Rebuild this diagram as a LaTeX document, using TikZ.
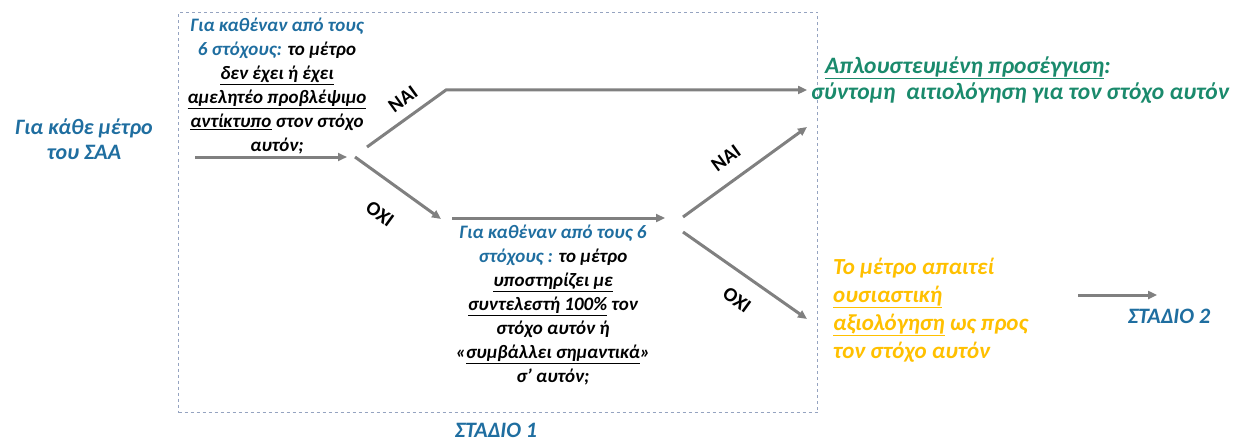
\documentclass[tikz,border=0pt]{standalone}
\usepackage{fontspec}
\setmainfont{Carlito}
\usetikzlibrary{arrows.meta}
\definecolor{sblue}{HTML}{1F6EA0}
\definecolor{sgreen}{HTML}{1A8A6C}
\definecolor{sorange}{HTML}{FFC000}
\definecolor{sgray}{HTML}{808080}
\definecolor{sdash}{HTML}{95A3C0}
\begin{document}
\begin{tikzpicture}[x=1pt,y=-1pt,
  conn/.style={draw=sgray,line width=3pt,-{Triangle[length=9pt,width=8pt]}},
  txt/.style={font=\fontsize{19}{24}\selectfont\bfseries\itshape,align=center,inner sep=0pt},
  yn/.style={font=\fontsize{20}{22}\selectfont\bfseries,inner sep=0pt},
  stage/.style={font=\fontsize{22}{24}\selectfont\bfseries\itshape,text=sblue,inner sep=0pt}]
\useasboundingbox (0,0) rectangle (1244,441);
\node[draw=sdash,dashed,line width=1pt,minimum width=639pt,minimum height=400pt,anchor=north west,inner sep=0pt] (frame) at (178,12) {};
\node[font=\fontsize{22}{25}\selectfont\bfseries\itshape,text=sblue,align=center,inner sep=0pt] (start) at (84,139) {Για κάθε μέτρο\\του ΣΑΑ};
\node[txt] (q1) at (277,86) {\textcolor{sblue}{Για καθέναν από τους}\\\textcolor{sblue}{6 στόχους:} το μέτρο\\\underline{δεν έχει ή έχει}\\\underline{αμελητέο προβλέψιμο}\\\underline{αντίκτυπο} στον στόχο\\αυτόν;};
\node[txt] (q2) at (553,305) {\textcolor{sblue}{Για καθέναν από τους 6}\\\textcolor{sblue}{στόχους :} το μέτρο\\\underline{υποστηρίζει με}\\\underline{συντελεστή 100\%} τον\\στόχο αυτόν ή\\«\underline{συμβάλλει σημαντικά}»\\σ' αυτόν;};
\node[font=\fontsize{23.5}{26}\selectfont\bfseries\itshape,text=sgreen,align=left,anchor=west,inner sep=0pt] (simp) at (811,80) {\hspace*{14pt}\underline{Απλουστευμένη προσέγγιση}:\\σύντομη\ \ αιτιολόγηση για τον στόχο αυτόν};
\node[font=\fontsize{23}{28}\selectfont\bfseries\itshape,text=sorange,align=left,anchor=west,inner sep=0pt] (full) at (833,310) {Το μέτρο απαιτεί\\\underline{ουσιαστική}\\\underline{αξιολόγηση} ως προς\\τον στόχο αυτόν};
\node[stage] (s2) at (1169,316) {ΣΤΑΔΙΟ 2};
\node[stage] (s1) at (496,430) {ΣΤΑΔΙΟ 1};
% connectors
\coordinate (a0) at (195,157); \coordinate (a1) at (347,157);
\draw[conn] (a0) -- (a1);
\coordinate (n0) at (367,147); \coordinate (n1) at (446,90); \coordinate (n2) at (807,90);
\draw[conn] (n0) -- (n1) -- (n2);
\coordinate (o0) at (355,157); \coordinate (o1) at (441,219);
\draw[conn] (o0) -- (o1);
\coordinate (b0) at (452,218); \coordinate (b1) at (665,218);
\draw[conn] (b0) -- (b1);
\coordinate (m0) at (683,217); \coordinate (m1) at (807,127);
\draw[conn] (m0) -- (m1);
\coordinate (p0) at (683,232); \coordinate (p1) at (807,319);
\draw[conn] (p0) -- (p1);
\coordinate (s0) at (1078,295); \coordinate (s3) at (1157,295);
\draw[conn] (s0) -- (s3);
\node[yn,rotate=36] (lny1) at (403,99) {ΝΑΙ};
\node[yn,rotate=-36] (lno1) at (380,214) {ΟΧΙ};
\node[yn,rotate=36] (lny2) at (726,158) {ΝΑΙ};
\node[yn,rotate=-36] (lno2) at (737,300) {ΟΧΙ};
\end{tikzpicture}
\end{document}
